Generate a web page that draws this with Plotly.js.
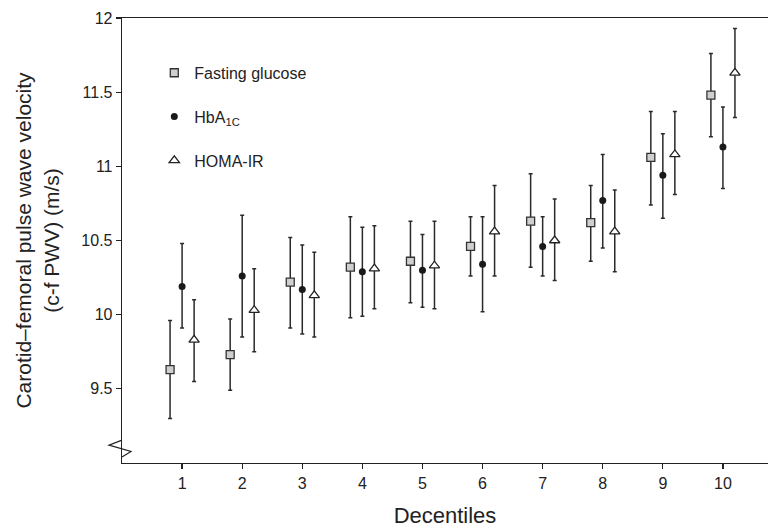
<!DOCTYPE html>
<html>
<head>
<meta charset="utf-8">
<script src="https://cdn.plot.ly/plotly-3.0.1.min.js"></script>
<style>html,body{margin:0;padding:0;background:#fff;}#chart{width:768px;height:528px;}</style>
</head>
<body>
<div id="chart"></div>
<script>
// Decentile categories
const deciles = [1, 2, 3, 4, 5, 6, 7, 8, 9, 10];
const xTickLabels = ['1','2','3','4','5','6','7','8','9','10'];
const yTickVals = [9.5, 10, 10.5, 11, 11.5, 12];
const yTickLabels = ['9.5','10','10.5','11','11.5','12'];

// Fasting glucose: mean, upper CI, lower CI (c-f PWV, m/s)
const fgMean  = [9.63, 9.73, 10.22, 10.32, 10.36, 10.46, 10.63, 10.62, 11.06, 11.48];
const fgUpper = [9.96, 9.97, 10.52, 10.66, 10.63, 10.66, 10.95, 10.87, 11.37, 11.76];
const fgLower = [9.30, 9.49, 9.91, 9.98, 10.08, 10.26, 10.32, 10.36, 10.74, 11.20];

// HbA1C
const hbMean  = [10.19, 10.26, 10.17, 10.29, 10.30, 10.34, 10.46, 10.77, 10.94, 11.13];
const hbUpper = [10.48, 10.67, 10.47, 10.59, 10.54, 10.66, 10.66, 11.08, 11.22, 11.40];
const hbLower = [9.91, 9.85, 9.87, 9.99, 10.05, 10.02, 10.26, 10.45, 10.65, 10.85];

// HOMA-IR
const hoMean  = [9.83, 10.03, 10.13, 10.31, 10.33, 10.56, 10.50, 10.56, 11.08, 11.63];
const hoUpper = [10.10, 10.31, 10.42, 10.60, 10.63, 10.87, 10.78, 10.84, 11.37, 11.93];
const hoLower = [9.55, 9.75, 9.85, 10.04, 10.04, 10.26, 10.23, 10.29, 10.81, 11.33];

const offsets = {fg: -0.2, hb: 0, ho: 0.2};

function makeTrace(name, mean, upper, lower, off, marker, group) {
  return {
    type: 'scatter', mode: 'markers', name: name, legendgroup: group,
    x: deciles.map(d => d + off),
    y: mean,
    error_y: {
      type: 'data', symmetric: false,
      array: upper.map((u, i) => u - mean[i]),
      arrayminus: mean.map((m, i) => m - lower[i]),
      color: '#2a2a2a', thickness: 1.5, width: 2
    },
    marker: marker
  };
}

const traces = [
  makeTrace('Fasting glucose', fgMean, fgUpper, fgLower, offsets.fg,
    {symbol: 'square', size: 8, color: '#cfcfcf', line: {color: '#333', width: 1.3}}, 'g1'),
  makeTrace('HbA<sub>1C</sub>', hbMean, hbUpper, hbLower, offsets.hb,
    {symbol: 'circle', size: 7, color: '#1a1a1a', line: {color: '#1a1a1a', width: 0}}, 'g2'),
  makeTrace('HOMA-IR', hoMean, hoUpper, hoLower, offsets.ho,
    {symbol: 'triangle-up', size: 9, color: '#ffffff', line: {color: '#222', width: 1.3}}, 'g3')
];

const font = {family: '"Liberation Sans", Arial, Helvetica, sans-serif', color: '#222'};

const layout = {
  width: 768, height: 528,
  margin: {l: 122, r: 0, t: 18, b: 65},
  paper_bgcolor: '#fff', plot_bgcolor: '#fff',
  font: Object.assign({size: 16}, font),
  showlegend: true,
  legend: {
    x: 0.05, y: 0.915, xanchor: 'left', yanchor: 'top',
    bgcolor: 'rgba(0,0,0,0)', borderwidth: 0,
    font: Object.assign({size: 16}, font),
    traceorder: 'grouped', tracegroupgap: 20, itemwidth: 30
  },
  xaxis: {
    range: [0, 10.75],
    tickvals: deciles, ticktext: xTickLabels,
    ticks: 'outside', ticklen: 5, tickwidth: 1.2, tickcolor: '#222',
    showline: true, mirror: true, linecolor: '#222', linewidth: 1.3,
    showgrid: false, zeroline: false,
    tickfont: Object.assign({size: 16}, font),
    title: {text: 'Decentiles', font: Object.assign({size: 22}, font), standoff: 20}
  },
  yaxis: {
    range: [9.0, 12.0],
    tickvals: yTickVals, ticktext: yTickLabels,
    ticks: 'outside', ticklen: 5, tickwidth: 1.2, tickcolor: '#222',
    showline: true, linecolor: '#222', linewidth: 1.3,
    showgrid: false, zeroline: false,
    tickfont: Object.assign({size: 16}, font),
    title: {text: 'Carotid–femoral pulse wave velocity<br>(c-f PWV) (m/s)',
            font: Object.assign({size: 21}, font), standoff: 16}
  },
  shapes: [{
    type: 'path', xref: 'paper', yref: 'y', xsizemode: 'pixel', xanchor: 0,
    path: 'M0,9.154 L-13,9.12 L9,9.078 L0,9.04',
    line: {color: '#222', width: 1.2}, fillcolor: 'rgba(0,0,0,0)'
  }]
};

Plotly.newPlot('chart', traces, layout, {displayModeBar: false, staticPlot: true});
</script>
</body>
</html>
